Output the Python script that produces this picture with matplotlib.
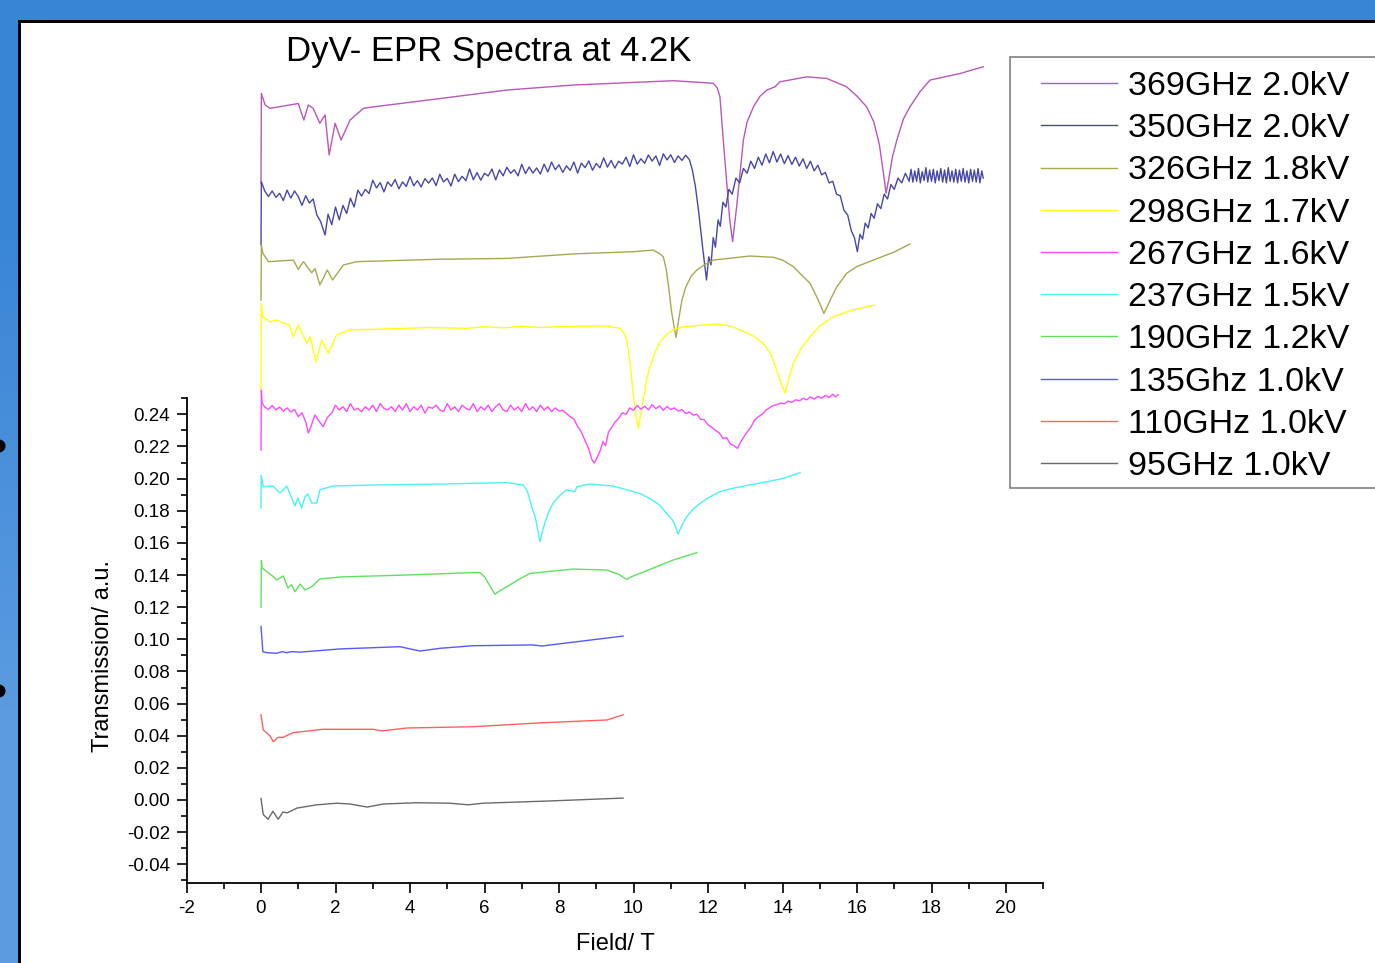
import numpy as np
import matplotlib
matplotlib.use('Agg')
import matplotlib.pyplot as plt
from matplotlib.patches import Rectangle, Ellipse
from matplotlib.ticker import FixedLocator, MultipleLocator, FormatStrFormatter

plt.rcParams['font.family'] = ['Liberation Sans', 'DejaVu Sans']

# 369GHz 2.0kV
field_369 = [0, 0.01, 0.11, 0.24, 1.0, 1.15, 1.27, 1.4, 1.58, 1.72, 1.83, 1.99, 2.15, 2.39, 2.75,
             3.01, 4.81, 6.6, 8.38, 11.07, 12.14, 12.25, 12.32, 12.41, 12.5, 12.58, 12.66, 12.77,
             12.95, 13.05, 13.22, 13.4, 13.58, 13.8, 13.93, 14.65, 15.19, 15.72, 16.0, 16.26,
             16.45, 16.6, 16.71, 16.78, 16.85, 16.95, 17.07, 17.25, 17.42, 17.7, 17.96, 18.77, 19.39]
trans_369 = [0.3838, 0.4397, 0.4325, 0.4304, 0.4334, 0.4231, 0.4325, 0.4304, 0.4211, 0.4263,
             0.4014, 0.4211, 0.4107, 0.4231, 0.4304, 0.4313, 0.4365, 0.4418, 0.4449, 0.4476,
             0.446, 0.443, 0.4376, 0.4107, 0.385, 0.362, 0.3474, 0.3693, 0.4107, 0.422,
             0.4313, 0.438, 0.4418, 0.4438, 0.4469, 0.45, 0.449, 0.4438, 0.438, 0.4313,
             0.422, 0.408, 0.39, 0.3775, 0.386, 0.400, 0.4107, 0.424, 0.4313, 0.441,
             0.448, 0.4521, 0.4563]

# 350GHz 2.0kV (noisy trace)
field_350 = [0, 0.01, 0.1, 0.2, 0.3, 0.4, 0.5, 0.6, 0.7, 0.8, 0.9, 1.0, 1.1, 1.2, 1.3, 1.4,
             1.5, 1.6, 1.72, 1.8, 1.9, 2.0, 2.1, 2.2, 2.3, 2.4, 2.5,
             2.6, 2.7, 2.8, 2.9, 3.0, 3.1, 3.2, 3.3, 3.4, 3.5, 3.6, 3.7, 3.8, 3.9, 4.0, 4.1,
             4.2, 4.3, 4.4, 4.5, 4.6, 4.7, 4.8, 4.9, 5.0, 5.1, 5.2, 5.3, 5.4, 5.5, 5.6, 5.7,
             5.8, 5.9, 6.0, 6.1, 6.2, 6.3, 6.4, 6.5, 6.6, 6.7, 6.8, 6.9, 7.0, 7.1, 7.2, 7.3,
             7.4, 7.5, 7.6, 7.7, 7.8, 7.9, 8.0, 8.1, 8.2, 8.3, 8.4, 8.5, 8.6, 8.7, 8.8, 8.9,
             9.0, 9.1, 9.2, 9.3, 9.4, 9.5, 9.6, 9.7, 9.8, 9.9, 10.0, 10.1, 10.2, 10.3, 10.4,
             10.5, 10.6, 10.7, 10.8, 10.9, 11.0, 11.1, 11.2, 11.3, 11.4,
             11.5, 11.58, 11.66, 11.75, 11.85, 11.96, 12.02, 12.08, 12.14, 12.2, 12.27, 12.33,
             12.4, 12.48, 12.56, 12.65, 12.75, 12.85, 12.95, 13.05, 13.15, 13.25, 13.35, 13.45,
             13.55, 13.65, 13.75, 13.85, 13.95, 14.05, 14.15, 14.25, 14.35, 14.45, 14.55, 14.65,
             14.75, 14.85, 14.95, 15.05, 15.15, 15.25, 15.35, 15.45, 15.55, 15.65, 15.75, 15.85,
             15.93, 16.01, 16.08, 16.15, 16.22, 16.3, 16.38, 16.46, 16.55, 16.64, 16.73, 16.82,
             16.91, 17.0, 17.1, 17.2, 17.3, 17.4,
             17.45, 17.5, 17.55, 17.6, 17.65, 17.7, 17.75, 17.8, 17.85, 17.9, 17.95, 18.0,
             18.05, 18.1, 18.15, 18.2, 18.25, 18.3, 18.35, 18.4, 18.45, 18.5, 18.55, 18.6,
             18.65, 18.7, 18.75, 18.8, 18.85, 18.9, 18.95, 19.0, 19.05, 19.1, 19.15, 19.2,
             19.25, 19.3, 19.35, 19.39]
trans_350 = [0.3454, 0.3847, 0.3790, 0.3755, 0.3790, 0.3750, 0.3775, 0.3730, 0.3795, 0.3745,
             0.3790, 0.3755, 0.3700, 0.3760, 0.3715, 0.3740, 0.3640, 0.3600, 0.3516, 0.3645,
             0.3580, 0.3690, 0.3610, 0.3700, 0.3650, 0.3745, 0.3690,
             0.3795, 0.3758, 0.3800, 0.3774, 0.3857, 0.3809, 0.3842, 0.3784, 0.3846, 0.3819,
             0.3861, 0.3803, 0.3846, 0.3818, 0.3880, 0.3822, 0.3854, 0.3815, 0.3867, 0.3839,
             0.3871, 0.3823, 0.3894, 0.3846, 0.3868, 0.3821, 0.3894, 0.3848, 0.3881, 0.3854,
             0.3927, 0.3860, 0.3904, 0.3857, 0.3900, 0.3883, 0.3926, 0.3859, 0.3921, 0.3884,
             0.3937, 0.3900, 0.3922, 0.3884, 0.3956, 0.3898, 0.3939, 0.3901, 0.3933, 0.3895,
             0.3957, 0.3908, 0.3970, 0.3922, 0.3953, 0.3905, 0.3946, 0.3918, 0.3970, 0.3901,
             0.3963, 0.3935, 0.3977, 0.3919, 0.3961, 0.3934, 0.3996, 0.3938, 0.3980, 0.3932,
             0.3975, 0.3957, 0.4000, 0.3942, 0.4015, 0.3957, 0.3990, 0.3962, 0.4014, 0.3976,
             0.4008, 0.3949, 0.4021, 0.3983, 0.4015, 0.3967, 0.4008, 0.3980, 0.4012,
             0.3985, 0.3920, 0.3820, 0.3660, 0.3450, 0.3236, 0.3380, 0.3330, 0.3500, 0.3440,
             0.3610, 0.3570, 0.3720, 0.3690, 0.3800, 0.3770, 0.3870, 0.3840, 0.3930, 0.3900,
             0.3975, 0.3930, 0.4000, 0.3950, 0.4020, 0.3965, 0.4035, 0.3970, 0.4020, 0.3960,
             0.4010, 0.3955, 0.4000, 0.3945, 0.3990, 0.3930, 0.3975, 0.3915, 0.3950, 0.3890,
             0.3905, 0.3840, 0.3850, 0.3770, 0.3760, 0.3670, 0.3640, 0.3540, 0.3500, 0.3412,
             0.3520, 0.3490, 0.3590, 0.3560, 0.3650, 0.3620, 0.3710, 0.3680, 0.3770, 0.3740,
             0.3830, 0.3800, 0.3870, 0.3840, 0.3900, 0.3850,
             0.3925, 0.3845, 0.3915, 0.3850, 0.3930, 0.3840, 0.3910, 0.3855, 0.3935, 0.3845,
             0.3920, 0.3850, 0.3925, 0.3840, 0.3915, 0.3855, 0.3930, 0.3845, 0.3920, 0.3840,
             0.3935, 0.3850, 0.3915, 0.3845, 0.3925, 0.3840, 0.3920, 0.3850, 0.3930, 0.3845,
             0.3915, 0.3840, 0.3925, 0.3850, 0.3920, 0.3845, 0.3930, 0.3840, 0.3915, 0.3870]

# 326GHz 1.8kV
field_326 = [0, 0.01, 0.05, 0.2, 0.87, 1.0, 1.14, 1.36, 1.45, 1.58, 1.78, 1.92, 2.21, 2.57,
             4.81, 6.6, 8.38, 10.0, 10.53, 10.7, 10.8, 10.88, 10.95, 11.02, 11.14, 11.22, 11.3,
             11.4, 11.55, 11.7, 11.9, 12.14, 13.13, 13.75, 14.0, 14.29, 14.5, 14.74, 14.9, 15.0,
             15.11, 15.2, 15.3, 15.45, 15.72, 16.0, 16.44, 17.0, 17.42]
trans_326 = [0.3111, 0.3454, 0.3402, 0.335, 0.336, 0.3302, 0.335, 0.3281, 0.3307, 0.3205,
             0.3298, 0.3236, 0.3329, 0.335, 0.3365, 0.337, 0.3398, 0.3412, 0.3422, 0.340,
             0.3381, 0.330, 0.318, 0.304, 0.2878, 0.300, 0.311, 0.319, 0.326, 0.3298,
             0.333, 0.336, 0.3385, 0.3377, 0.336, 0.3319, 0.327, 0.3215, 0.314, 0.309,
             0.3028, 0.307, 0.312, 0.319, 0.3277, 0.332, 0.336, 0.341, 0.346]

# 298GHz 1.7kV
field_298 = [0, 0.01, 0.05, 0.24, 0.42, 0.6, 0.75, 0.87, 1.0, 1.23, 1.32, 1.48, 1.63, 1.81,
             2.03, 2.39, 3.5, 4.5, 5.5, 6.0, 6.5, 7.0, 7.5, 8.0, 8.5, 9.28, 9.64, 9.75, 9.82,
             9.91, 9.99, 10.06, 10.13, 10.2, 10.26, 10.35, 10.44, 10.57, 10.71, 10.9, 11.1,
             11.34, 12.23, 12.6, 12.86, 13.2, 13.48, 13.7, 13.84, 13.95, 14.07, 14.17, 14.29,
             14.5, 14.74, 15.0, 15.36, 15.9, 16.48]
trans_298 = [0.2551, 0.309, 0.3007, 0.2975, 0.2987, 0.2966, 0.2960, 0.2883, 0.2956, 0.2842,
             0.2883, 0.2727, 0.2862, 0.2779, 0.2894, 0.2925, 0.2932, 0.2940, 0.2935, 0.2945,
             0.2938, 0.2948, 0.2940, 0.2945, 0.2948, 0.2950, 0.2935, 0.2905, 0.2862, 0.2717,
             0.2531, 0.240, 0.2313, 0.241, 0.2489, 0.261, 0.2696, 0.278, 0.2852, 0.290,
             0.293, 0.2945, 0.2962, 0.295, 0.2925, 0.289, 0.2842, 0.277, 0.2676, 0.260,
             0.2531, 0.262, 0.2717, 0.281, 0.2883, 0.295, 0.3007, 0.305, 0.308]

# 267GHz 1.6kV (noisy trace)
field_267 = [0, 0.01, 0.03, 0.1, 0.2, 0.3, 0.4, 0.5, 0.6, 0.7, 0.8, 0.9, 1.0, 1.1, 1.2, 1.27,
             1.35, 1.45, 1.55, 1.67, 1.78, 1.9,
             2.0, 2.1, 2.2, 2.3, 2.4, 2.5, 2.6, 2.7, 2.8, 2.9, 3.0, 3.1, 3.2, 3.3, 3.4, 3.5,
             3.6, 3.7, 3.8, 3.9, 4.0, 4.1, 4.2, 4.3, 4.4, 4.5, 4.6, 4.7, 4.8, 4.9, 5.0, 5.1,
             5.2, 5.3, 5.4, 5.5, 5.6, 5.7, 5.8, 5.9, 6.0, 6.1, 6.2, 6.3, 6.4, 6.5, 6.6, 6.7,
             6.8, 6.9, 7.0, 7.1, 7.2, 7.3, 7.4, 7.5, 7.6, 7.7, 7.8, 7.9, 8.0,
             8.1, 8.2, 8.3, 8.4, 8.5, 8.6, 8.7, 8.8, 8.88, 8.95, 9.02, 9.1, 9.18, 9.25, 9.33,
             9.42, 9.5, 9.6, 9.7, 9.8, 9.9, 10.0, 10.1, 10.2, 10.3, 10.4, 10.5, 10.6, 10.7,
             10.8, 10.9, 11.0, 11.1, 11.2, 11.3, 11.4, 11.5, 11.6, 11.7, 11.8, 11.9, 12.0,
             12.1, 12.2, 12.3, 12.4, 12.5, 12.6, 12.7, 12.79, 12.87, 12.95, 13.05, 13.15,
             13.25, 13.35, 13.45, 13.55, 13.65, 13.75, 13.85, 13.95, 14.05, 14.15, 14.25,
             14.35, 14.47, 14.55, 14.65, 14.75, 14.85, 14.95, 15.05, 15.15, 15.25, 15.35,
             15.42, 15.5]
trans_267 = [0.2178, 0.2550, 0.2469, 0.2445, 0.2430, 0.2455, 0.2428, 0.2445, 0.2420, 0.2440,
             0.2415, 0.2430, 0.2385, 0.2410, 0.2354, 0.2284, 0.2330, 0.2396, 0.2360, 0.2323,
             0.2380, 0.2408,
             0.2457, 0.2427, 0.2447, 0.2417, 0.2467, 0.2427, 0.2437, 0.2417, 0.2447, 0.2427,
             0.2457, 0.2417, 0.2467, 0.2437, 0.2427, 0.2447, 0.2417, 0.2457, 0.2427, 0.2467,
             0.2417, 0.2447, 0.2427, 0.2457, 0.2407, 0.2447, 0.2437, 0.2457, 0.2427, 0.2417,
             0.2467, 0.2427, 0.2447, 0.2417, 0.2457, 0.2437, 0.2427, 0.2467, 0.2417, 0.2447,
             0.2427, 0.2457, 0.2417, 0.2447, 0.2467, 0.2427, 0.2417, 0.2457, 0.2427, 0.2447,
             0.2417, 0.2467, 0.2427, 0.2447, 0.2417, 0.2457, 0.2427, 0.2447, 0.2417, 0.2440,
             0.2420,
             0.2425, 0.2405, 0.2385, 0.2370, 0.2325, 0.2290, 0.2235, 0.2185, 0.2120, 0.2097,
             0.2130, 0.2170, 0.2230, 0.2205, 0.2290, 0.2320, 0.2350, 0.2375, 0.2410, 0.2400,
             0.2440, 0.2425, 0.2455, 0.2432, 0.2450, 0.2428, 0.2460, 0.2435, 0.2452, 0.2425,
             0.2448, 0.2430, 0.2440, 0.2420, 0.2430, 0.2405, 0.2415, 0.2395, 0.2400, 0.2370,
             0.2365, 0.2335, 0.2320, 0.2300, 0.2285, 0.2250, 0.2255, 0.2215, 0.2205, 0.2188,
             0.2225, 0.2255, 0.2290, 0.2320, 0.2365, 0.2385, 0.2400, 0.2425, 0.2440, 0.2455,
             0.2460, 0.2470, 0.2465, 0.2482, 0.2475, 0.2490, 0.2485, 0.2500, 0.2490, 0.2508,
             0.2495, 0.2512, 0.2500, 0.2518, 0.2505, 0.2525, 0.2508, 0.2522]

# 237GHz 1.5kV
field_237 = [0, 0.005, 0.06, 0.32, 0.51, 0.69, 0.91, 0.99, 1.09, 1.18, 1.26, 1.36, 1.50, 1.58,
             1.93, 3.0, 4.8, 6.6, 7.04, 7.15, 7.22, 7.3, 7.36, 7.43, 7.49, 7.55, 7.62, 7.72,
             7.84, 8.0, 8.2, 8.43, 8.48, 8.83, 9.45, 10.17, 10.45, 10.7, 10.9, 11.05, 11.13,
             11.2, 11.3, 11.43, 11.6, 11.79, 12.0, 12.32, 12.67, 13.1, 13.58, 14.0, 14.47]
trans_237 = [0.1817, 0.2022, 0.195, 0.1954, 0.191, 0.1954, 0.183, 0.188, 0.1817, 0.1887,
             0.1904, 0.1848, 0.1848, 0.193, 0.1954, 0.196, 0.1966, 0.1975, 0.196, 0.192,
             0.1867, 0.180, 0.1763, 0.168, 0.1607, 0.167, 0.1724, 0.179, 0.1848, 0.189,
             0.193, 0.1919, 0.195, 0.1966, 0.1954, 0.1908, 0.1875, 0.1836, 0.178, 0.1742,
             0.170, 0.1655, 0.171, 0.1763, 0.181, 0.1846, 0.188, 0.1919, 0.194, 0.196,
             0.198, 0.200, 0.2036]

# 190GHz 1.2kV
field_190 = [0, 0.01, 0.03, 0.33, 0.42, 0.6, 0.72, 0.82, 0.91, 1.05, 1.18, 1.36, 1.58, 2.12,
             3.91, 5.69, 5.88, 6.0, 6.15, 6.28, 6.4, 6.6, 6.9, 7.22, 8.38, 9.28, 9.6, 9.82,
             9.95, 10.17, 11.06, 11.7]
trans_190 = [0.120, 0.149, 0.1443, 0.139, 0.137, 0.1394, 0.132, 0.134, 0.1296, 0.1344,
             0.1307, 0.1327, 0.1375, 0.1388, 0.140, 0.1415, 0.1415, 0.139, 0.133, 0.128,
             0.130, 0.1327, 0.137, 0.141, 0.1437, 0.1431, 0.1405, 0.1372, 0.139, 0.141,
             0.1493, 0.1539]

# 135GHz 1.0kV
field_135 = [0, 0.05, 0.15, 0.42, 0.56, 0.69, 0.82, 1.05, 2.12, 3.73, 4.27, 4.81, 5.69, 7.30,
             7.54, 7.95, 9.72]
trans_135 = [0.108, 0.0923, 0.0917, 0.0913, 0.0923, 0.0917, 0.0923, 0.092, 0.094, 0.0954,
             0.0927, 0.0944, 0.096, 0.0965, 0.0958, 0.097, 0.102]

# 110GHz 1.0kV
field_110 = [0, 0.06, 0.24, 0.33, 0.46, 0.59, 0.86, 1.66, 3.0, 3.25, 3.92, 5.69, 7.49, 9.29, 9.72]
trans_110 = [0.053, 0.0436, 0.040, 0.0363, 0.039, 0.039, 0.0419, 0.044, 0.044, 0.043,
             0.0448, 0.0456, 0.048, 0.0498, 0.053]

# 95GHz 1.0kV
field_95 = [0, 0.06, 0.19, 0.32, 0.46, 0.59, 0.70, 0.97, 1.5, 2.04, 2.39, 2.85, 3.28, 4.19,
            5.07, 5.56, 5.96, 7.76, 9.72]
trans_95 = [0.001, -0.009, -0.012, -0.007, -0.012, -0.0075, -0.008, -0.005, -0.003, -0.002,
            -0.0025, -0.0044, -0.0025, -0.0017, -0.002, -0.003, -0.002, -0.0006, 0.0012]

labels = ['369GHz 2.0kV', '350GHz 2.0kV', '326GHz 1.8kV', '298GHz 1.7kV', '267GHz 1.6kV',
          '237GHz 1.5kV', '190GHz 1.2kV', '135Ghz 1.0kV', '110GHz 1.0kV', '95GHz 1.0kV']
colors = ['#b858b8', '#4848a8', '#a8a850', '#ffff10', '#ff48ff',
          '#48f4f4', '#60e060', '#5858ff', '#ff6060', '#6a6a6a']

W, H = 1375, 963
fig = plt.figure(figsize=(W / 100, H / 100), dpi=100)
fig.patch.set_facecolor('white')

# slide frame: blue band on top and left, thin black edge
top_band = fig.add_axes([0, 1 - 21 / H, 1, 21 / H])
top_band.imshow([[[0.227, 0.525, 0.839]]], aspect='auto')
top_band.axis('off')
left_band = fig.add_axes([0, 0, 18 / W, 1])
left_band.imshow([[[0.227, 0.525, 0.839]], [[0.36, 0.61, 0.88]]], aspect='auto',
                 interpolation='bilinear')
left_band.axis('off')
fig.add_artist(Rectangle((18 / W, 1 - 23 / H), 1, 2.5 / H, color='black', lw=0))
fig.add_artist(Rectangle((18 / W, 0), 2.5 / W, 1 - 21 / H, color='black', lw=0))
for yb in [446, 691]:
    fig.add_artist(Ellipse((-1 / W, 1 - yb / H), 13 / W, 13 / H, color='black', lw=0))

ax = fig.add_axes([186.5 / W, 80 / H, (1043.25 - 186.5) / W, 853 / H])
ax.set_facecolor('none')

series = [(field_369, trans_369), (field_350, trans_350), (field_326, trans_326),
          (field_298, trans_298), (field_267, trans_267), (field_237, trans_237),
          (field_190, trans_190), (field_135, trans_135), (field_110, trans_110),
          (field_95, trans_95)]
handles = []
for (fx, ty), lab, col in zip(series, labels, colors):
    ln, = ax.plot(fx, ty, color=col, lw=1.0, label=lab)
    handles.append(ln)

ax.set_xlim(-2, 21)
ax.set_ylim(-0.05165, 0.47915)
for s in ['top', 'right']:
    ax.spines[s].set_visible(False)
ax.spines['left'].set_bounds(-0.05165, 0.2502)
ax.spines['left'].set_linewidth(1.3)
ax.spines['bottom'].set_linewidth(1.3)

ax.xaxis.set_major_locator(MultipleLocator(2))
ax.xaxis.set_minor_locator(MultipleLocator(1))
ax.xaxis.set_major_formatter(FormatStrFormatter('%d'))
ax.yaxis.set_major_locator(FixedLocator(np.round(np.arange(-0.04, 0.2401, 0.02), 2)))
ax.yaxis.set_minor_locator(FixedLocator(np.round(np.arange(-0.05, 0.2501, 0.02), 2)))
ax.yaxis.set_major_formatter(FormatStrFormatter('%.2f'))
ax.tick_params(which='major', direction='out', length=7, width=1.2, pad=5, labelsize=13.5)
ax.tick_params(which='minor', direction='out', length=4, width=1.2)

ax.set_xlabel('Field/ T', fontsize=17, labelpad=12)
ax.set_ylabel('Transmission/ a.u.', fontsize=17)
ax.yaxis.set_label_coords(-0.085, 0.266)

fig.text(489 / W, 1 - 52 / H, 'DyV- EPR Spectra at 4.2K', fontsize=25,
         ha='center', va='center')

# legend box runs past the right edge of the picture
fig.add_artist(Rectangle((1010 / W, 1 - 488 / H), 400 / W, 431 / H,
                         facecolor='white', edgecolor='#808080', lw=1.2))
fig.legend(handles=handles, labels=labels, loc='upper left',
           bbox_to_anchor=(1041 / W, 1 - 71 / H), frameon=False, fontsize=24.5,
           handlelength=2.23, handletextpad=0.32, labelspacing=0.33, borderpad=0,
           borderaxespad=0)

fig.savefig('out.png', dpi=100, facecolor='white')
